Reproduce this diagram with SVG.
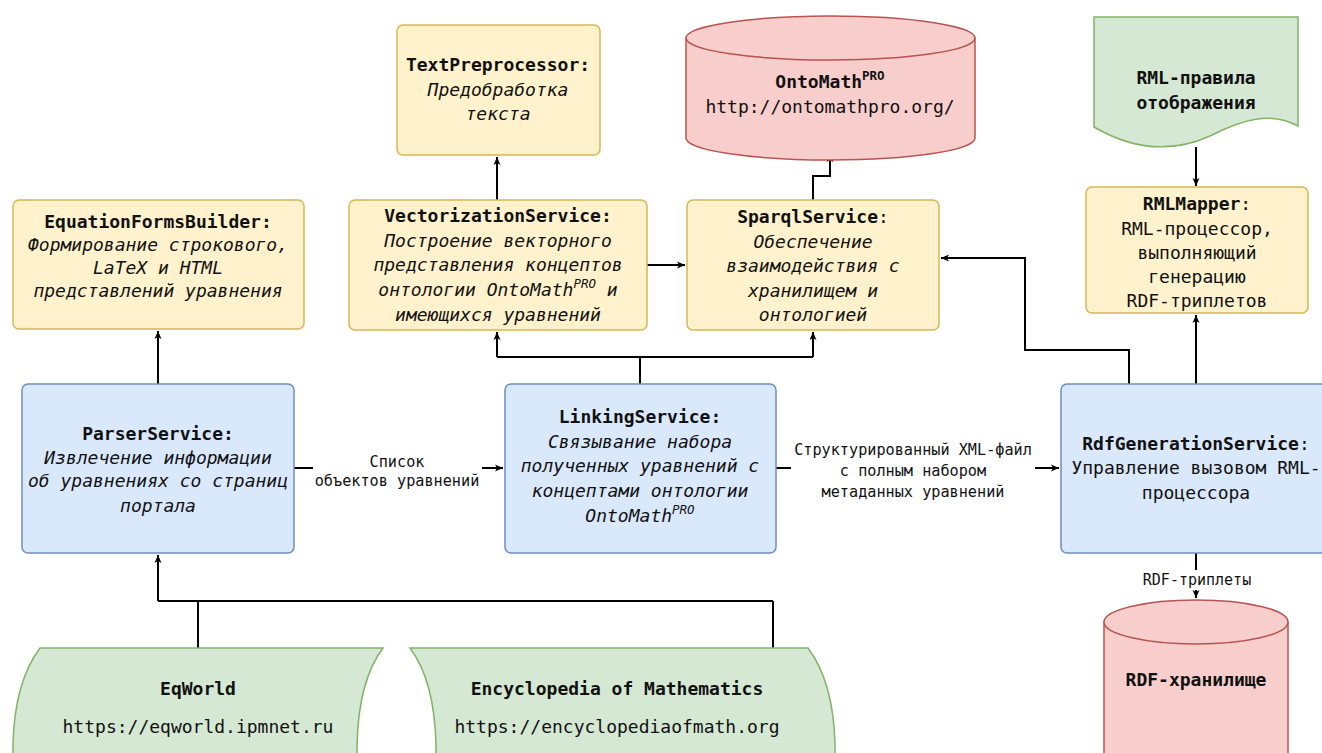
<svg xmlns="http://www.w3.org/2000/svg" width="1322" height="753" viewBox="0 0 1322 753">
<defs>
<marker id="arr" markerWidth="10" markerHeight="10" refX="9" refY="5" orient="auto" markerUnits="userSpaceOnUse">
<path d="M1,1.5 L9,5 L1,8.5 L3,5 Z" fill="#000"/>
</marker>
<style>
text{font-family:"DejaVu Sans Mono","Liberation Mono",monospace;font-size:18px;fill:#111;text-anchor:middle}
.b{font-weight:bold}
.i{font-style:italic}
.lbl{font-size:15.2px}
.sm{font-size:15px}
.y{fill:#fff2cc;stroke:#d6b656;stroke-width:1.5}
.bl{fill:#dae8fc;stroke:#6c8ebf;stroke-width:1.5}
.r{fill:#f8cecc;stroke:#b85450;stroke-width:1.5}
.g{fill:#d5e8d4;stroke:#82b366;stroke-width:1.5}
.c{fill:none;stroke:#000;stroke-width:2}
.a{marker-end:url(#arr)}
.bg{fill:#fff}
</style>
</defs>
<rect width="1322" height="753" fill="#fff"/>

<g id="connectors">
<path class="c a" d="M158,384 V331"/>
<path class="c" d="M198,648 V601 M773,648 V601 M158,601 H773"/>
<path class="c a" d="M158,601 V555"/>
<path class="c" d="M640,384 V357 M497,357 H813"/>
<path class="c a" d="M497,357 V332"/>
<path class="c a" d="M813,357 V332"/>
<path class="c a" d="M497,200 V157"/>
<path class="c a" d="M647,265 H685"/>
<path class="c a" d="M813,200 V176 H830 V154"/>
<path class="c a" d="M1129,384 V350 H1025 V258 H941"/>
<path class="c a" d="M1196,384 V315"/>
<path class="c a" d="M1196,147 V186"/>
<path class="c a" d="M294,468 H503"/>
<rect class="bg" x="313" y="450" width="169" height="40"/>
<text class="lbl" x="397" y="467">Список</text>
<text class="lbl" x="397" y="486">объектов уравнений</text>
<path class="c a" d="M776,468 H1059"/>
<rect class="bg" x="791" y="438" width="244" height="64"/>
<text class="lbl" x="913" y="455">Структурированный XML-файл</text>
<text class="lbl" x="913" y="476">с полным набором</text>
<text class="lbl" x="913" y="497">метаданных уравнений</text>
<path class="c a" d="M1196,553 V598"/>
<rect class="bg" x="1140" y="570" width="114" height="20"/>
<text class="sm" x="1197" y="585">RDF-триплеты</text>
</g>

<g id="equationFormsBuilder">
<rect class="y" x="13" y="200" width="291" height="129" rx="6"/>
<text class="b" x="158" y="228">EquationFormsBuilder:</text>
<text class="i" x="158" y="251">Формирование строкового,</text>
<text class="i" x="158" y="274">LaTeX и HTML</text>
<text class="i" x="158" y="297">представлений уравнения</text>
</g>

<g id="textPreprocessor">
<rect class="y" x="397" y="25" width="203" height="130" rx="6"/>
<text class="b" x="498" y="71">TextPreprocessor:</text>
<text class="i" x="498" y="96">Предобработка</text>
<text class="i" x="498" y="120">текста</text>
</g>

<g id="ontoMath">
<path class="r" d="M686,38 V138 A144.5,22 0 0 0 975,138 V38 A144.5,22 0 0 0 686,38 Z"/>
<path class="r" d="M686,38 A144.5,22 0 0 0 975,38"/>
<text x="830" y="88"><tspan class="b">OntoMath</tspan><tspan class="b" font-size="12.5" dy="-8">PRO</tspan></text>
<text x="830" y="113" font-size="19">http://ontomathpro.org/</text>
</g>

<g id="vectorizationService">
<rect class="y" x="349" y="200" width="298" height="130" rx="6"/>
<text class="b" x="498" y="222">VectorizationService:</text>
<text class="i" x="498" y="247">Построение векторного</text>
<text class="i" x="498" y="271">представления концептов</text>
<text class="i" x="498" y="296">онтологии OntoMath<tspan font-size="12.5" dy="-8">PRO</tspan><tspan dy="8"> и</tspan></text>
<text class="i" x="498" y="321">имеющихся уравнений</text>
</g>

<g id="sparqlService">
<rect class="y" x="687" y="200" width="252" height="130" rx="6"/>
<text x="813" y="223"><tspan class="b">SparqlService</tspan>:</text>
<text class="i" x="813" y="248">Обеспечение</text>
<text class="i" x="813" y="272">взаимодействия с</text>
<text class="i" x="813" y="297">хранилищем и</text>
<text class="i" x="813" y="321">онтологией</text>
</g>

<g id="rmlRules">
<path class="g" d="M1094,17 H1298 V126 C1272,112 1245,118 1210,136 C1170,154 1130,148 1094,127 Z"/>
<text class="b" x="1196" y="84">RML-правила</text>
<text class="b" x="1196" y="109">отображения</text>
</g>

<g id="rmlMapper">
<rect class="y" x="1086" y="187" width="222" height="126" rx="6"/>
<text x="1197" y="210"><tspan class="b">RMLMapper</tspan>:</text>
<text x="1197" y="235">RML-процессор,</text>
<text x="1197" y="259">выполняющий</text>
<text x="1197" y="283">генерацию</text>
<text x="1197" y="307">RDF-триплетов</text>
</g>

<g id="parserService">
<rect class="bl" x="22" y="384" width="272" height="169" rx="6"/>
<text class="b" x="158" y="440">ParserService:</text>
<text class="i" x="158" y="464">Извлечение информации</text>
<text class="i" x="158" y="487">об уравнениях со страниц</text>
<text class="i" x="158" y="512">портала</text>
</g>

<g id="linkingService">
<rect class="bl" x="505" y="384" width="271" height="169" rx="6"/>
<text class="b" x="640" y="423">LinkingService:</text>
<text class="i" x="640" y="448">Связывание набора</text>
<text class="i" x="640" y="472">полученных уравнений с</text>
<text class="i" x="640" y="497">концептами онтологии</text>
<text class="i" x="640" y="522">OntoMath<tspan font-size="12.5" dy="-8">PRO</tspan></text>
</g>

<g id="rdfGenerationService">
<rect class="bl" x="1061" y="384" width="275" height="169" rx="6"/>
<text x="1196" y="450"><tspan class="b">RdfGenerationService</tspan>:</text>
<text x="1196" y="474">Управление вызовом RML-</text>
<text x="1196" y="499">процессора</text>
</g>

<g id="rdfStore">
<path class="r" d="M1104,622 V760 A92,22 0 0 0 1288,760 V622 A92,22 0 0 0 1104,622 Z"/>
<path class="r" d="M1104,622 A92,22 0 0 0 1288,622"/>
<text class="b" x="1196" y="686">RDF-хранилище</text>
</g>

<g id="eqWorld">
<path class="g" d="M40,648 H383 C368,668 358,700 357,745 V762 H13 V745 C14,700 25,668 40,648 Z"/>
<text class="b" x="198" y="695">EqWorld</text>
<text x="198" y="733">https://eqworld.ipmnet.ru</text>
</g>

<g id="encyclopedia">
<path class="g" d="M410,648 H808 C823,668 834,700 835,745 V762 H436 V745 C435,700 425,668 410,648 Z"/>
<text class="b" x="617" y="695">Encyclopedia of Mathematics</text>
<text x="617" y="733">https://encyclopediaofmath.org</text>
</g>
</svg>
